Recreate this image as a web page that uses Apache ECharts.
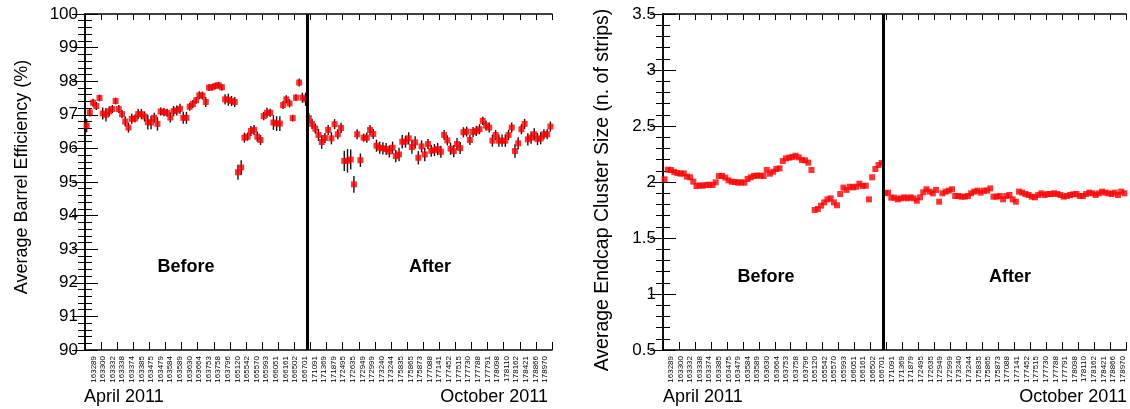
<!DOCTYPE html>
<html>
<head>
<meta charset="utf-8">
<script src="https://cdn.jsdelivr.net/npm/echarts@6/dist/echarts.min.js"></script>
<style>
html,body{margin:0;padding:0;background:#fff;}
#chart{width:1130px;height:409px;}
</style>
</head>
<body>
<div id="chart"></div>
<script>
// Run numbers shown as tick labels (same on both panels)
const runLabels = ['163289','163300','163332','163338','163374','163385','163475','163479','163584','163589',
  '163630','163664','163753','163758','163796','165120','165542','165570','165993','166051',
  '166161','166502','166701','171091','171369','171879','172495','172635','172949','172999',
  '173240','173244','175835','175865','175873','177088','177141','177452','177515','177730',
  '177788','177791','178098','178110','178162','178421','178866','178970'];

// Average barrel efficiency (%) per run bin (145 bins)
const barrelEff = [
  96.68, 97.07, 97.36, 97.26, 97.50, 97.04, 97.00, 97.10, 97.17, 97.41,
  97.17, 97.02, 96.80, 96.62, 96.88, 96.89, 97.02, 97.02, 96.95, 96.78,
  96.77, 96.91, 96.73, 97.10, 97.08, 97.06, 96.92, 97.11, 97.13, 97.18,
  96.91, 96.91, 97.24, 97.32, 97.43, 97.58, 97.57, 97.38, 97.81, 97.82,
  97.86, 97.88, 97.82, 97.46, 97.45, 97.41, 97.38, 95.29, 95.43,
  96.32, 96.35, 96.52, 96.55, 96.35, 96.25, 96.96, 97.06, 97.06, 96.77,
  96.74, 96.74, 97.29, 97.46, 97.34, 96.90, 97.51, 97.96, 97.51, 97.46,
  96.90, 96.73, 96.59, 96.40, 96.19, 96.31, 96.55, 96.30, 96.72, 96.42,
  96.61, 95.63, 95.63, 95.67, 94.93, 96.42, 95.65, 96.32, 96.32, 96.55,
  96.43, 96.08, 96.02, 96.00, 95.98, 95.91, 96.02, 95.77,
  95.82, 96.20, 96.20, 96.30, 96.04, 96.18, 95.72, 96.06, 95.82, 96.13,
  95.93, 95.95, 95.98, 95.90, 96.40, 96.24, 95.99, 95.92, 96.13, 96.01,
  96.48, 96.50, 96.25, 96.49, 96.52, 96.57, 96.82, 96.68, 96.62, 96.23,
  96.40, 96.23, 96.23, 96.23, 96.40, 96.62, 95.92, 96.15, 96.57, 96.73,
  96.27, 96.32, 96.42, 96.28, 96.30, 96.42, 96.42, 96.65
];

// Error (half-length of error bar) per bin
const barrelErr = [
  0.20, 0.12, 0.12, 0.12, 0.10, 0.18, 0.20, 0.15, 0.12, 0.10,
  0.12, 0.12, 0.15, 0.15, 0.15, 0.12, 0.15, 0.15, 0.15, 0.22,
  0.20, 0.15, 0.20, 0.12, 0.12, 0.12, 0.15, 0.15, 0.15, 0.15,
  0.18, 0.18, 0.12, 0.12, 0.10, 0.12, 0.12, 0.15, 0.10, 0.10,
  0.10, 0.10, 0.10, 0.15, 0.18, 0.15, 0.15, 0.22, 0.22,
  0.15, 0.12, 0.15, 0.15, 0.15, 0.15, 0.12, 0.15, 0.12, 0.22,
  0.22, 0.22, 0.12, 0.12, 0.12, 0.10, 0.10, 0.12, 0.15, 0.20,
  0.15, 0.15, 0.15, 0.18, 0.20, 0.15, 0.15, 0.18, 0.15, 0.15,
  0.15, 0.30, 0.35, 0.30, 0.25, 0.15, 0.20, 0.12, 0.15, 0.15,
  0.15, 0.18, 0.18, 0.18, 0.18, 0.18, 0.18, 0.18,
  0.20, 0.20, 0.18, 0.18, 0.20, 0.18, 0.20, 0.18, 0.20, 0.15,
  0.18, 0.18, 0.18, 0.18, 0.15, 0.15, 0.18, 0.18, 0.18, 0.18,
  0.15, 0.15, 0.15, 0.15, 0.15, 0.15, 0.12, 0.15, 0.15, 0.18,
  0.15, 0.18, 0.18, 0.18, 0.15, 0.15, 0.20, 0.18, 0.15, 0.15,
  0.18, 0.18, 0.18, 0.18, 0.18, 0.15, 0.15, 0.15
];

// Average endcap cluster size (n. of strips) per run bin
const endcapSize = [
  2.024, 2.110, 2.107, 2.090, 2.080, 2.074, 2.077, 2.048, 2.042, 2.003,
  1.964, 1.970, 1.967, 1.973, 1.976, 1.973, 1.997, 2.054, 2.054, 2.039,
  2.015, 2.003, 2.000, 1.994, 1.997, 1.994, 2.027, 2.042, 2.054, 2.057,
  2.057, 2.054, 2.107, 2.074, 2.092, 2.116, 2.122, 2.187, 2.211, 2.217,
  2.223, 2.235, 2.220, 2.196, 2.193, 2.173, 2.107,
  1.750, 1.759, 1.789, 1.818, 1.845, 1.854, 1.818, 1.792, 1.893, 1.950,
  1.929, 1.958, 1.952, 1.958, 1.985, 1.964, 1.967, 1.845, 2.042, 2.116,
  2.152, 2.170,
  1.900, 1.905, 1.860, 1.860, 1.845, 1.854, 1.863, 1.854, 1.863, 1.854,
  1.833, 1.863, 1.908, 1.935, 1.914, 1.899, 1.929, 1.824, 1.899, 1.914,
  1.923, 1.935, 1.875, 1.875, 1.869, 1.869, 1.875,
  1.899, 1.914, 1.923, 1.905, 1.923, 1.923, 1.943, 1.869, 1.869, 1.875,
  1.845, 1.875, 1.884, 1.845, 1.824, 1.914, 1.905, 1.893, 1.884, 1.869,
  1.863, 1.884, 1.899, 1.884, 1.893, 1.893, 1.899, 1.893, 1.884, 1.869,
  1.875, 1.884, 1.890, 1.893, 1.875, 1.875, 1.893, 1.905, 1.899, 1.884,
  1.899, 1.914, 1.905, 1.899, 1.893, 1.905, 1.884, 1.914, 1.899
];

const splitBin = 69;          // boundary between "Before" and "After"
const nBins = barrelEff.length;

const FONT = '"Liberation Sans", Arial, Helvetica, sans-serif';

const barrelPts = barrelEff.map((v, i) => [i + 0.5, v]);
const barrelBars = barrelEff.map((v, i) => [i + 0.5, v - barrelErr[i], v + barrelErr[i]]);
const endcapPts = endcapSize.map((v, i) => [i + 0.5, v]);

const chart = echarts.init(document.getElementById('chart'), null, {renderer: 'canvas'});

const frame = {show: true, lineStyle: {color: '#000', width: 1.5}};

function binAxis(gridIndex, position, tickLen) {
  return {
    type: 'value', gridIndex, position, min: 0, max: nBins, interval: 5,
    axisLine: frame,
    axisTick: {show: true, inside: true, length: tickLen, lineStyle: {color: '#000', width: 1}},
    axisLabel: {show: false}, splitLine: {show: false}
  };
}
function labelAxis(gridIndex) {
  return {
    type: 'category', gridIndex, position: 'bottom', data: runLabels, boundaryGap: true,
    axisLine: {show: false}, axisTick: {show: false}, splitLine: {show: false},
    axisLabel: {show: true, interval: 0, rotate: 90, fontSize: 8, margin: 6,
      color: '#000', fontFamily: FONT}
  };
}
function valAxis(gridIndex, position, min, max, interval, showLabel) {
  return {
    type: 'value', gridIndex, position, min, max, interval,
    axisLine: frame,
    axisTick: {show: true, inside: true, length: 13, lineStyle: {color: '#000', width: 1}},
    minorTick: {show: true, splitNumber: 5, length: 7, lineStyle: {color: '#000', width: 1}},
    axisLabel: {show: showLabel, fontSize: 17, color: '#000', fontFamily: FONT, margin: 7,
      showMinLabel: true, showMaxLabel: true},
    splitLine: {show: false}, minorSplitLine: {show: false}
  };
}
function hiddenY(gridIndex) {
  return {type: 'value', gridIndex, show: false, min: 0, max: 1};
}
function txt(x, y, text, opts) {
  return Object.assign({
    type: 'text', x, y,
    style: Object.assign({text, fill: '#000', font: '18px ' + FONT,
      align: 'center', verticalAlign: 'middle'}, opts && opts.style)
  }, opts && opts.el);
}

const option = {
  animation: false,
  backgroundColor: '#fff',
  grid: [
    {left: 85, top: 14, width: 467, height: 336},
    {left: 88.5, top: 14, width: 461.3, height: 336},
    {left: 663, top: 14, width: 463, height: 336},
    {left: 665.9, top: 14, width: 461.6, height: 336}
  ],
  xAxis: [
    binAxis(0, 'bottom', 8),
    binAxis(0, 'top', 6),
    labelAxis(1),
    binAxis(2, 'bottom', 8),
    binAxis(2, 'top', 6),
    labelAxis(3)
  ],
  yAxis: [
    valAxis(0, 'left', 90, 100, 1, true),
    valAxis(0, 'right', 90, 100, 1, false),
    hiddenY(1),
    valAxis(2, 'left', 0.5, 3.5, 0.5, true),
    valAxis(2, 'right', 0.5, 3.5, 0.5, false),
    hiddenY(3)
  ],
  series: [
    {
      type: 'custom', xAxisIndex: 0, yAxisIndex: 0, z: 2,
      data: barrelBars, encode: {x: 0, y: [1, 2]},
      renderItem: function (params, api) {
        const x = api.value(0);
        const p1 = api.coord([x, api.value(1)]);
        const p2 = api.coord([x, api.value(2)]);
        return {type: 'line', shape: {x1: p1[0], y1: p1[1], x2: p2[0], y2: p2[1]},
          style: {stroke: '#111', lineWidth: 1.4}};
      }
    },
    {
      type: 'scatter', xAxisIndex: 0, yAxisIndex: 0, z: 3,
      symbol: 'rect', symbolSize: 6, data: barrelPts,
      itemStyle: {color: '#ff0000'},
      markLine: {silent: true, symbol: ['none', 'none'], label: {show: false},
        lineStyle: {color: '#000', width: 3, type: 'solid'},
        data: [{xAxis: splitBin}]}
    },
    {
      type: 'scatter', xAxisIndex: 3, yAxisIndex: 3, z: 3,
      symbol: 'rect', symbolSize: 6, data: endcapPts,
      itemStyle: {color: '#ff0000'},
      markLine: {silent: true, symbol: ['none', 'none'], label: {show: false},
        lineStyle: {color: '#000', width: 3, type: 'solid'},
        data: [{xAxis: splitBin}]}
    }
  ],
  graphic: [
    txt(22, 177, 'Average Barrel Efficiency (%)', {el: {rotation: Math.PI / 2}}),
    txt(603, 190, 'Average Endcap Cluster Size (n. of strips)', {el: {rotation: Math.PI / 2}, style: {font: '19.5px ' + FONT}}),
    txt(186, 267, 'Before', {style: {font: 'bold 18px ' + FONT}}),
    txt(430, 267, 'After', {style: {font: 'bold 18px ' + FONT}}),
    txt(766, 277, 'Before', {style: {font: 'bold 18px ' + FONT}}),
    txt(1010, 277, 'After', {style: {font: 'bold 18px ' + FONT}}),
    txt(84, 397, 'April 2011', {style: {align: 'left'}}),
    txt(548, 397, 'October 2011', {style: {align: 'right'}}),
    txt(663, 397, 'April 2011', {style: {align: 'left'}}),
    txt(1127, 397, 'October 2011', {style: {align: 'right'}})
  ]
};
chart.setOption(option);
</script>
</body>
</html>
